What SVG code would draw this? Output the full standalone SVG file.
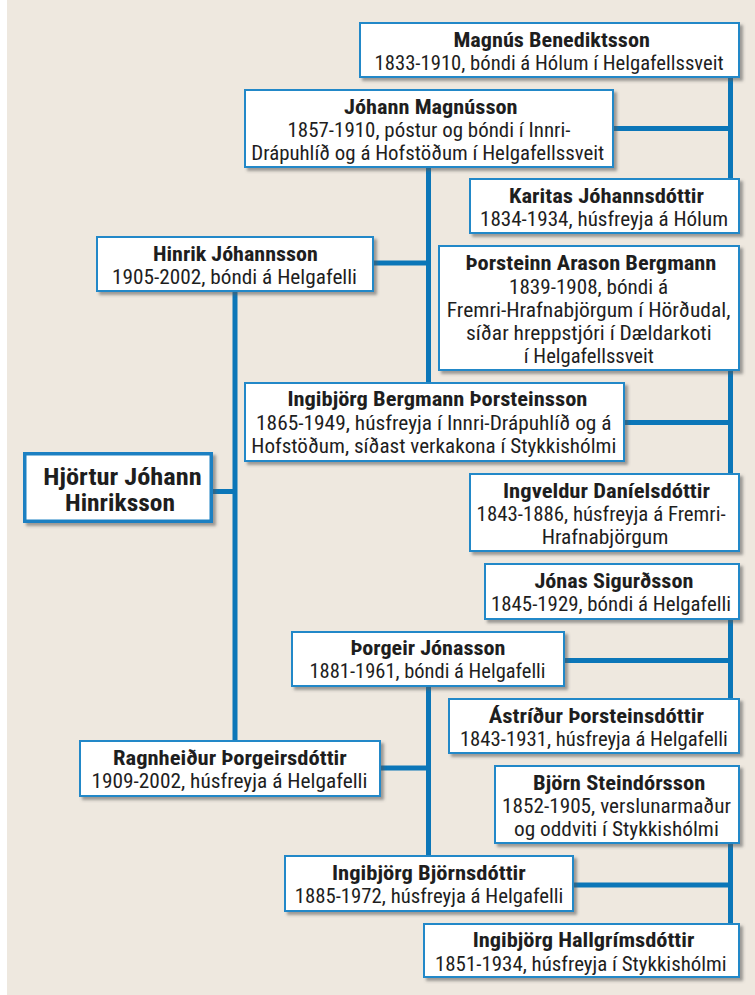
<svg xmlns="http://www.w3.org/2000/svg" width="755" height="995" viewBox="0 0 755 995">
<defs>
<filter id="sh" x="-10%" y="-10%" width="125%" height="135%">
<feDropShadow dx="3" dy="3" stdDeviation="1.4" flood-color="#555" flood-opacity="0.55"/>
</filter>
<style>
.bx{fill:#fff;stroke:#2088c8;stroke-width:2;filter:url(#sh)}
.bx2{fill:#fff;stroke:#1a80c2;stroke-width:3.5;filter:url(#sh)}
.ln{stroke:#0b76b8;stroke-width:5;fill:none}
text{font-family:"Liberation Sans Narrow","Roboto Condensed","DejaVu Sans Condensed","Liberation Sans",sans-serif;fill:#1e1e1e;text-anchor:middle}
.t{font-weight:bold;font-size:20px}
.d{font-size:21px}
.h{font-weight:bold;font-size:23.5px}
</style>
</defs>
<rect x="0" y="0" width="755" height="995" fill="#fff"/>
<rect x="7" y="0" width="748" height="995" fill="#eee8df"/>
<g id="connectors">
<path class="ln" d="M730.5 78V178M614 128.5H730.5"/>
<path class="ln" d="M428.5 168V382M374 263H428.5"/>
<path class="ln" d="M235 292V740M213 491.5H235"/>
<path class="ln" d="M730.5 371V473M625 422.5H730.5"/>
<path class="ln" d="M730.5 620V698M565 660.5H730.5"/>
<path class="ln" d="M428.5 687V855M381 768H428.5"/>
<path class="ln" d="M730.5 844V923M574 885H730.5"/>
</g>
<g id="magnus">
<rect class="bx" x="360" y="23" width="379" height="54"/>
<text class="t" x="551.7" y="46.5" textLength="196.5" lengthAdjust="spacingAndGlyphs">Magnús Benediktsson</text>
<text class="d" x="549.1" y="69.5" textLength="349" lengthAdjust="spacingAndGlyphs">1833-1910, bóndi á Hólum í Helgafellssveit</text>
</g>
<g id="johann">
<rect class="bx" x="245" y="90" width="368" height="77"/>
<text class="t" x="430.8" y="114" textLength="173.6" lengthAdjust="spacingAndGlyphs">Jóhann Magnússon</text>
<text class="d" x="429" y="137" textLength="283" lengthAdjust="spacingAndGlyphs">1857-1910, póstur og bóndi í Innri-</text>
<text class="d" x="427.8" y="160" textLength="353" lengthAdjust="spacingAndGlyphs">Drápuhlíð og á Hofstöðum í Helgafellssveit</text>
</g>
<g id="karitas">
<rect class="bx" x="470" y="179" width="269" height="54"/>
<text class="t" x="606.5" y="203" textLength="195" lengthAdjust="spacingAndGlyphs">Karitas Jóhannsdóttir</text>
<text class="d" x="604" y="226" textLength="248" lengthAdjust="spacingAndGlyphs">1834-1934, húsfreyja á Hólum</text>
</g>
<g id="hinrik">
<rect class="bx" x="97" y="237" width="276" height="54"/>
<text class="t" x="235.4" y="261" textLength="164.8" lengthAdjust="spacingAndGlyphs">Hinrik Jóhannsson</text>
<text class="d" x="234.5" y="284" textLength="245" lengthAdjust="spacingAndGlyphs">1905-2002, bóndi á Helgafelli</text>
</g>
<g id="thorsteinn">
<rect class="bx" x="439" y="246" width="300" height="124"/>
<text class="t" x="591" y="270" textLength="250.8" lengthAdjust="spacingAndGlyphs">Þorsteinn Arason Bergmann</text>
<text class="d" x="588.5" y="293.5" textLength="159" lengthAdjust="spacingAndGlyphs">1839-1908, bóndi á</text>
<text class="d" x="588.6" y="316.5" textLength="283.6" lengthAdjust="spacingAndGlyphs">Fremri-Hrafnabjörgum í Hörðudal,</text>
<text class="d" x="588.8" y="339.5" textLength="245.6" lengthAdjust="spacingAndGlyphs">síðar hreppstjóri í Dældarkoti</text>
<text class="d" x="588.8" y="362.5" textLength="130" lengthAdjust="spacingAndGlyphs">í Helgafellssveit</text>
</g>
<g id="ingibjorg-bergmann">
<rect class="bx" x="245" y="383" width="379" height="78"/>
<text class="t" x="437.4" y="406" textLength="300" lengthAdjust="spacingAndGlyphs">Ingibjörg Bergmann Þorsteinsson</text>
<text class="d" x="433.8" y="429.5" textLength="355.5" lengthAdjust="spacingAndGlyphs">1865-1949, húsfreyja í Innri-Drápuhlíð og á</text>
<text class="d" x="433.8" y="452.5" textLength="365" lengthAdjust="spacingAndGlyphs">Hofstöðum, síðast verkakona í Stykkishólmi</text>
</g>
<g id="hjortur">
<rect class="bx2" x="24.75" y="453.75" width="186.5" height="67.5"/>
<text class="h" x="122.5" y="484.5" textLength="158.4" lengthAdjust="spacingAndGlyphs">Hjörtur Jóhann</text>
<text class="h" x="120" y="511" textLength="110" lengthAdjust="spacingAndGlyphs">Hinriksson</text>
</g>
<g id="ingveldur">
<rect class="bx" x="470" y="474" width="269" height="77"/>
<text class="t" x="606.5" y="497.5" textLength="207" lengthAdjust="spacingAndGlyphs">Ingveldur Daníelsdóttir</text>
<text class="d" x="601.1" y="521" textLength="249" lengthAdjust="spacingAndGlyphs">1843-1886, húsfreyja á Fremri-</text>
<text class="d" x="605" y="544" textLength="126.7" lengthAdjust="spacingAndGlyphs">Hrafnabjörgum</text>
</g>
<g id="jonas">
<rect class="bx" x="485" y="564" width="254" height="55"/>
<text class="t" x="613.9" y="588" textLength="159" lengthAdjust="spacingAndGlyphs">Jónas Sigurðsson</text>
<text class="d" x="611" y="611" textLength="240" lengthAdjust="spacingAndGlyphs">1845-1929, bóndi á Helgafelli</text>
</g>
<g id="thorgeir">
<rect class="bx" x="292" y="632" width="272" height="54"/>
<text class="t" x="428" y="655" textLength="155" lengthAdjust="spacingAndGlyphs">Þorgeir Jónasson</text>
<text class="d" x="427.5" y="678" textLength="236" lengthAdjust="spacingAndGlyphs">1881-1961, bóndi á Helgafelli</text>
</g>
<g id="astridur">
<rect class="bx" x="449" y="699" width="290" height="54"/>
<text class="t" x="596.3" y="723" textLength="215.3" lengthAdjust="spacingAndGlyphs">Ástríður Þorsteinsdóttir</text>
<text class="d" x="593.9" y="746" textLength="268" lengthAdjust="spacingAndGlyphs">1843-1931, húsfreyja á Helgafelli</text>
</g>
<g id="ragnheidur">
<rect class="bx" x="80" y="741" width="300" height="55"/>
<text class="t" x="229.9" y="765" textLength="233.7" lengthAdjust="spacingAndGlyphs">Ragnheiður Þorgeirsdóttir</text>
<text class="d" x="229.4" y="788" textLength="276" lengthAdjust="spacingAndGlyphs">1909-2002, húsfreyja á Helgafelli</text>
</g>
<g id="bjorn">
<rect class="bx" x="495" y="766" width="244" height="77"/>
<text class="t" x="619.2" y="790" textLength="172.3" lengthAdjust="spacingAndGlyphs">Björn Steindórsson</text>
<text class="d" x="616.5" y="813" textLength="229" lengthAdjust="spacingAndGlyphs">1852-1905, verslunarmaður</text>
<text class="d" x="616.4" y="836" textLength="204.8" lengthAdjust="spacingAndGlyphs">og oddviti í Stykkishólmi</text>
</g>
<g id="ingibjorg-bjornsdottir">
<rect class="bx" x="285" y="856" width="288" height="55"/>
<text class="t" x="428.9" y="879.5" textLength="193.8" lengthAdjust="spacingAndGlyphs">Ingibjörg Björnsdóttir</text>
<text class="d" x="429" y="902.5" textLength="268.6" lengthAdjust="spacingAndGlyphs">1885-1972, húsfreyja á Helgafelli</text>
</g>
<g id="ingibjorg-hallgrimsdottir">
<rect class="bx" x="424" y="924" width="315" height="53"/>
<text class="t" x="583.5" y="946.5" textLength="221.7" lengthAdjust="spacingAndGlyphs">Ingibjörg Hallgrímsdóttir</text>
<text class="d" x="580.8" y="971" textLength="291.7" lengthAdjust="spacingAndGlyphs">1851-1934, húsfreyja í Stykkishólmi</text>
</g>
</svg>
